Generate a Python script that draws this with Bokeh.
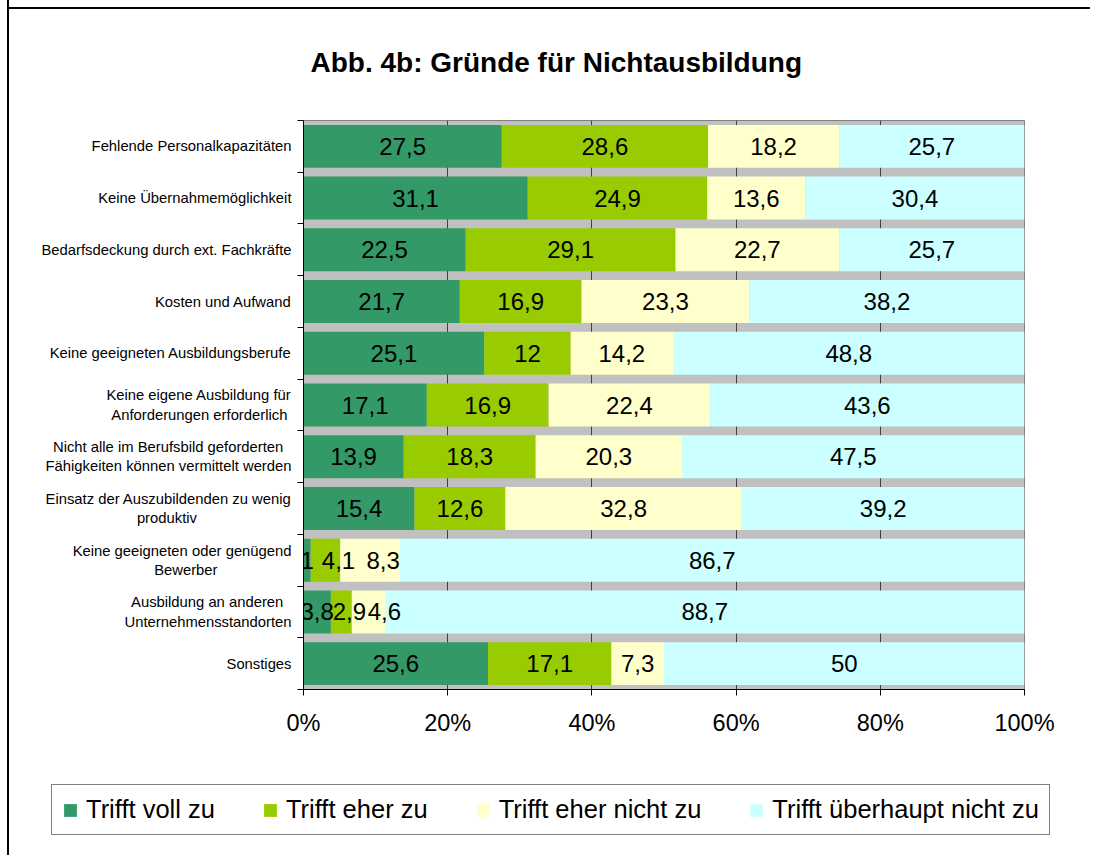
from bokeh.plotting import figure
from bokeh.models import (ColumnDataSource, Range1d, FixedTicker, LabelSet,
                          Legend, LegendItem)
from bokeh.core.properties import value
from bokeh.embed import file_html
from bokeh.resources import INLINE

categories = [
    "Fehlende Personalkapazitäten",
    "Keine Übernahmemöglichkeit",
    "Bedarfsdeckung durch ext. Fachkräfte",
    "Kosten und Aufwand",
    "Keine geeigneten Ausbildungsberufe",
    "Keine eigene Ausbildung für\nAnforderungen erforderlich",
    "Nicht alle im Berufsbild geforderten\nFähigkeiten können vermittelt werden",
    "Einsatz der Auszubildenden zu wenig\nproduktiv",
    "Keine geeigneten oder genügend\nBewerber",
    "Ausbildung an anderen\nUnternehmensstandorten",
    "Sonstiges",
]
trifft_voll_zu = [27.5, 31.1, 22.5, 21.7, 25.1, 17.1, 13.9, 15.4, 1, 3.8, 25.6]
trifft_eher_zu = [28.6, 24.9, 29.1, 16.9, 12, 16.9, 18.3, 12.6, 4.1, 2.9, 17.1]
trifft_eher_nicht_zu = [18.2, 13.6, 22.7, 23.3, 14.2, 22.4, 20.3, 32.8, 8.3, 4.6, 7.3]
trifft_ueberhaupt_nicht_zu = [25.7, 30.4, 25.7, 38.2, 48.8, 43.6, 47.5, 39.2, 86.7, 88.7, 50]
series_names = ["Trifft voll zu", "Trifft eher zu", "Trifft eher nicht zu",
                "Trifft überhaupt nicht zu"]
series_colors = ["#339966", "#99CC00", "#FFFFCC", "#CCFFFF"]
x_tick_values = [0, 20, 40, 60, 80, 100]
x_tick_labels = ["0%", "20%", "40%", "60%", "80%", "100%"]
title_text = "Abb. 4b: Gründe für Nichtausbildung"

# styling helpers (not data): per-line padding for centred multi-line labels,
# and pixel nudges for crowded data labels (row, series) -> px
line_pads = [[0], [0], [0], [0], [0], [0, 1], [2, 0], [0, 23], [0, 18], [2, 0], [0]]
label_nudges = {(8, 1): 13, (8, 2): 13, (9, 1): 8, (9, 2): 16}

FONT = "Liberation Sans"
NBSP = "\u00a0"
W = 1090
series = [trifft_voll_zu, trifft_eher_zu, trifft_eher_nicht_zu, trifft_ueberhaupt_nicht_zu]
n = len(categories)
ypos = [n - 1 - i for i in range(n)]


def fmt(v):
    return ("%g" % v).replace(".", ",")


def pad_label(text, pads):
    lines = text.split("\n")
    return "\n".join(l + NBSP * k for l, k in zip(lines, pads))


data = {"y": ypos}
totals = [sum(s[i] for s in series) for i in range(n)]
cum = [0.0] * n
for k, s in enumerate(series):
    left = list(cum)
    right = [cum[i] + s[i] / totals[i] * 100.0 for i in range(n)]
    data[f"l{k}"] = left
    data[f"r{k}"] = right
    data[f"c{k}"] = [(left[i] + right[i]) / 2 for i in range(n)]
    data[f"t{k}"] = [fmt(v) for v in s]
    data[f"o{k}"] = [label_nudges.get((i, k), 0) for i in range(n)]
    cum = right
src = ColumnDataSource(data)

LEFT_LINE = "linear-gradient(90deg, transparent 7px, #000 7px, #000 9px, transparent 9px)"
TOP_LINE = ("linear-gradient(180deg, transparent 7px, #000 7px, #000 9px, transparent 9px)")

p = figure(width=W, height=760, output_backend="svg", toolbar_location=None,
           x_range=Range1d(0, 100), y_range=Range1d(-0.5, n - 0.5),
           min_border_left=303, min_border_right=W - 1024, min_border_top=120,
           min_border_bottom=71)
p.styles = {"background-image": LEFT_LINE + ", " + TOP_LINE,
            "background-repeat": "no-repeat",
            "background-size": "100% 100%, 100% 100%",
            "background-position": "0 0, 7px 0"}
p.background_fill_color = "#C0C0C0"
p.border_fill_alpha = 0
p.outline_line_color = "#808080"
p.outline_line_width = 1

p.title.text = title_text
p.title.align = "left"
p.title.offset = 7
p.title.text_font = FONT
p.title.text_font_size = "28px"
p.title.text_font_style = "bold"
p.title.text_color = "black"
p.title.standoff = 86

for k in range(4):
    p.hbar(y="y", left=f"l{k}", right=f"r{k}", height=0.83, source=src,
           fill_color=series_colors[k], line_color=None)
    labels = LabelSet(x=f"c{k}", y="y", text=f"t{k}", source=src,
                      x_offset=f"o{k}",
                      text_align="center", text_baseline="middle",
                      text_font=value(FONT), text_font_size="24px",
                      text_color="black")
    p.add_layout(labels)

# x axis
xt = FixedTicker(ticks=x_tick_values)
p.xaxis.ticker = xt
p.xaxis.major_label_overrides = {v: l for v, l in zip(x_tick_values, x_tick_labels)}
p.xaxis.major_label_text_font = FONT
p.xaxis.major_label_text_font_size = "23.5px"
p.xaxis.major_label_text_color = "black"
p.xaxis.major_tick_out = 6
p.xaxis.major_tick_in = 0
p.xaxis.minor_tick_out = 0
p.xaxis.minor_tick_in = 0
p.xaxis.major_label_standoff = 14
p.xaxis.axis_line_color = "black"
p.xaxis.major_tick_line_color = "black"
p.xgrid.ticker = xt
p.xgrid.grid_line_color = "#404040"
p.ygrid.grid_line_color = None

# y axis
yt = FixedTicker(ticks=ypos, minor_ticks=[i - 0.5 for i in range(n + 1)])
p.yaxis.ticker = yt
p.yaxis.major_label_overrides = {ypos[i]: pad_label(categories[i], line_pads[i])
                                 for i in range(n)}
p.yaxis.major_label_text_font = FONT
p.yaxis.major_label_text_font_size = "14.8px"
p.yaxis.major_label_text_color = "black"
p.yaxis.major_tick_out = 0
p.yaxis.major_tick_in = 0
p.yaxis.minor_tick_out = 6
p.yaxis.minor_tick_in = 0
p.yaxis.minor_tick_line_color = "black"
p.yaxis.major_label_standoff = 6
p.yaxis.axis_line_color = "black"

# legend: a separate, axis-less root directly under the chart (its frame spans the
# full width, so the wide legend is not clipped). The series are drawn there out of view.
q = figure(width=W, height=95, output_backend="svg", toolbar_location=None,
           x_range=Range1d(-300, -200), y_range=Range1d(-0.5, n - 0.5),
           min_border=0, min_border_left=0, min_border_right=0,
           min_border_top=0, min_border_bottom=0)
q.styles = {"background-image": LEFT_LINE, "background-repeat": "no-repeat"}
q.axis.visible = False
q.grid.visible = False
q.outline_line_color = None
q.background_fill_alpha = 0
q.border_fill_alpha = 0
legend_renderers = [q.hbar(y="y", left=f"l{k}", right=f"r{k}", height=0.83, source=src,
                           fill_color=series_colors[k], line_color=None)
                    for k in range(4)]
legend = Legend(items=[LegendItem(label=series_names[k], renderers=[legend_renderers[k]])
                       for k in range(4)],
                orientation="horizontal", location=(51, 20))
legend.margin = 0
legend.label_text_font = FONT
legend.label_text_font_size = "25.5px"
legend.label_text_color = "black"
legend.glyph_width = 16
legend.glyph_height = 16
legend.label_standoff = 8
legend.spacing = 47
legend.padding = 10
legend.border_line_color = "black"
legend.border_line_width = 1
legend.background_fill_color = "white"
legend.background_fill_alpha = 1
q.add_layout(legend)

open("out.html", "w").write(file_html((p, q), INLINE))
